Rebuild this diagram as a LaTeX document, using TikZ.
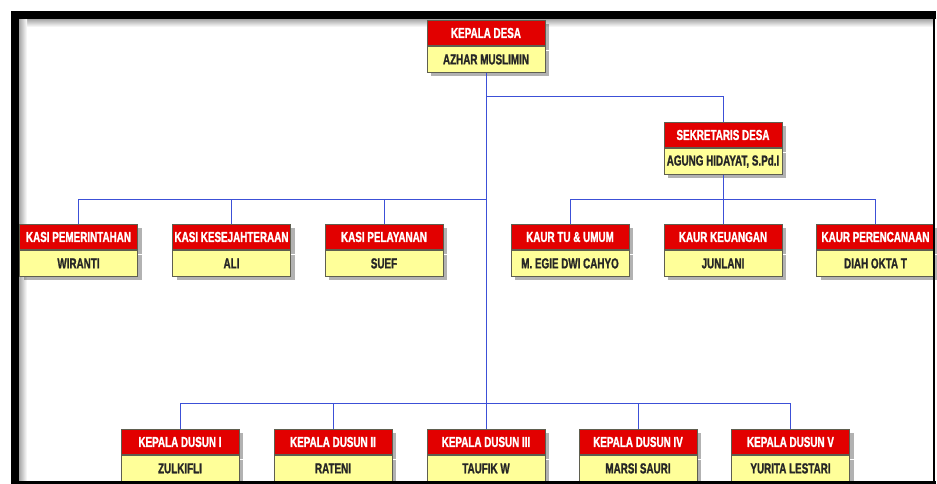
\documentclass[tikz,border=0pt]{standalone}
\usepackage{fontspec}
\newfontfamily\orgfont{Liberation Sans}[FakeStretch=0.68, FakeBold=1.2]
\usetikzlibrary{positioning,shadows}
\definecolor{jabred}{RGB}{226,0,0}
\definecolor{namayel}{RGB}{255,255,153}
\definecolor{garis}{RGB}{60,80,215}
\definecolor{tepi}{RGB}{95,95,80}
\begin{document}
\begin{tikzpicture}[x=1pt, y=-1pt,
    jab/.style={rectangle, draw=tepi, fill=jabred, text=white, minimum width=118pt, minimum height=25.5pt, inner sep=0pt,
        font=\orgfont\bfseries\fontsize{14.5}{15}\selectfont,
        drop shadow={shadow xshift=4pt, shadow yshift=-4pt, fill=black, opacity=0.3}},
    nama/.style={jab, fill=namayel, text=black!85},
    every path/.style={line width=0.9pt}]

    \useasboundingbox (0,0) rectangle (937,484);
    \fill[white] (0,0) rectangle (937,484);

    % inner shading of the frame
    \shade[top color=black!35, bottom color=white, draw=none] (19,19) rectangle (933,27);
    \shade[left color=black!35, right color=white, draw=none] (19,19) rectangle (27,481);

    % kepala desa
    \node[jab] (kd) at (486,33) {KEPALA DESA};
    \node[nama, below=0pt of kd] (kd-n) {AZHAR MUSLIMIN};

    % sekretaris
    \node[jab] (sek) at (723,135) {SEKRETARIS DESA};
    \node[nama, below=0pt of sek] (sek-n) {AGUNG HIDAYAT, S.Pd.I};

    % kasi
    \node[jab] (kasi1) at (78.5,237) {KASI PEMERINTAHAN};
    \node[nama, below=0pt of kasi1] (kasi1-n) {WIRANTI};
    \node[jab] (kasi2) at (231.5,237) {KASI KESEJAHTERAAN};
    \node[nama, below=0pt of kasi2] (kasi2-n) {ALI};
    \node[jab] (kasi3) at (384,237) {KASI PELAYANAN};
    \node[nama, below=0pt of kasi3] (kasi3-n) {SUEF};

    % kaur
    \node[jab] (kaur1) at (570,237) {KAUR TU \& UMUM};
    \node[nama, below=0pt of kaur1] (kaur1-n) {M. EGIE DWI CAHYO};
    \node[jab] (kaur2) at (723,237) {KAUR KEUANGAN};
    \node[nama, below=0pt of kaur2] (kaur2-n) {JUNLANI};
    \node[jab] (kaur3) at (875.5,237) {KAUR PERENCANAAN};
    \node[nama, below=0pt of kaur3] (kaur3-n) {DIAH OKTA T};

    % kepala dusun
    \node[jab] (dsn1) at (180,442) {KEPALA DUSUN I};
    \node[nama, below=0pt of dsn1] (dsn1-n) {ZULKIFLI};
    \node[jab] (dsn2) at (333,442) {KEPALA DUSUN II};
    \node[nama, below=0pt of dsn2] (dsn2-n) {RATENI};
    \node[jab] (dsn3) at (486,442) {KEPALA DUSUN III};
    \node[nama, below=0pt of dsn3] (dsn3-n) {TAUFIK W};
    \node[jab] (dsn4) at (638,442) {KEPALA DUSUN IV};
    \node[nama, below=0pt of dsn4] (dsn4-n) {MARSI SAURI};
    \node[jab] (dsn5) at (790.5,442) {KEPALA DUSUN V};
    \node[nama, below=0pt of dsn5] (dsn5-n) {YURITA LESTARI};

    \coordinate (bus1) at (486,96);
    \coordinate (bus2) at (486,199);
    \coordinate (bus3) at (723,199);
    \coordinate (bus4) at (486,403);

    \begin{scope}[garis]
    \draw (kd-n.south) -- (dsn3.north);
    \draw (sek.north) |- (bus1);
    \draw (kasi1.north) |- (bus2);
    \draw (kasi2.north) |- (bus2);
    \draw (kasi3.north) |- (bus2);
    \draw (sek-n.south) -- (kaur2.north);
    \draw (kaur1.north) |- (bus3);
    \draw (kaur3.north) |- (bus3);
    \draw (dsn1.north) |- (bus4);
    \draw (dsn2.north) |- (bus4);
    \draw (dsn4.north) |- (bus4);
    \draw (dsn5.north) |- (bus4);
    \end{scope}

    % frame
    \fill[black] (11,11) rectangle (936,19);
    \fill[black] (11,11) rectangle (19,484);
    \fill[black] (932.5,11) rectangle (935,484);
    \fill[black] (11,481) rectangle (936,484);

    \end{tikzpicture}
\end{document}
